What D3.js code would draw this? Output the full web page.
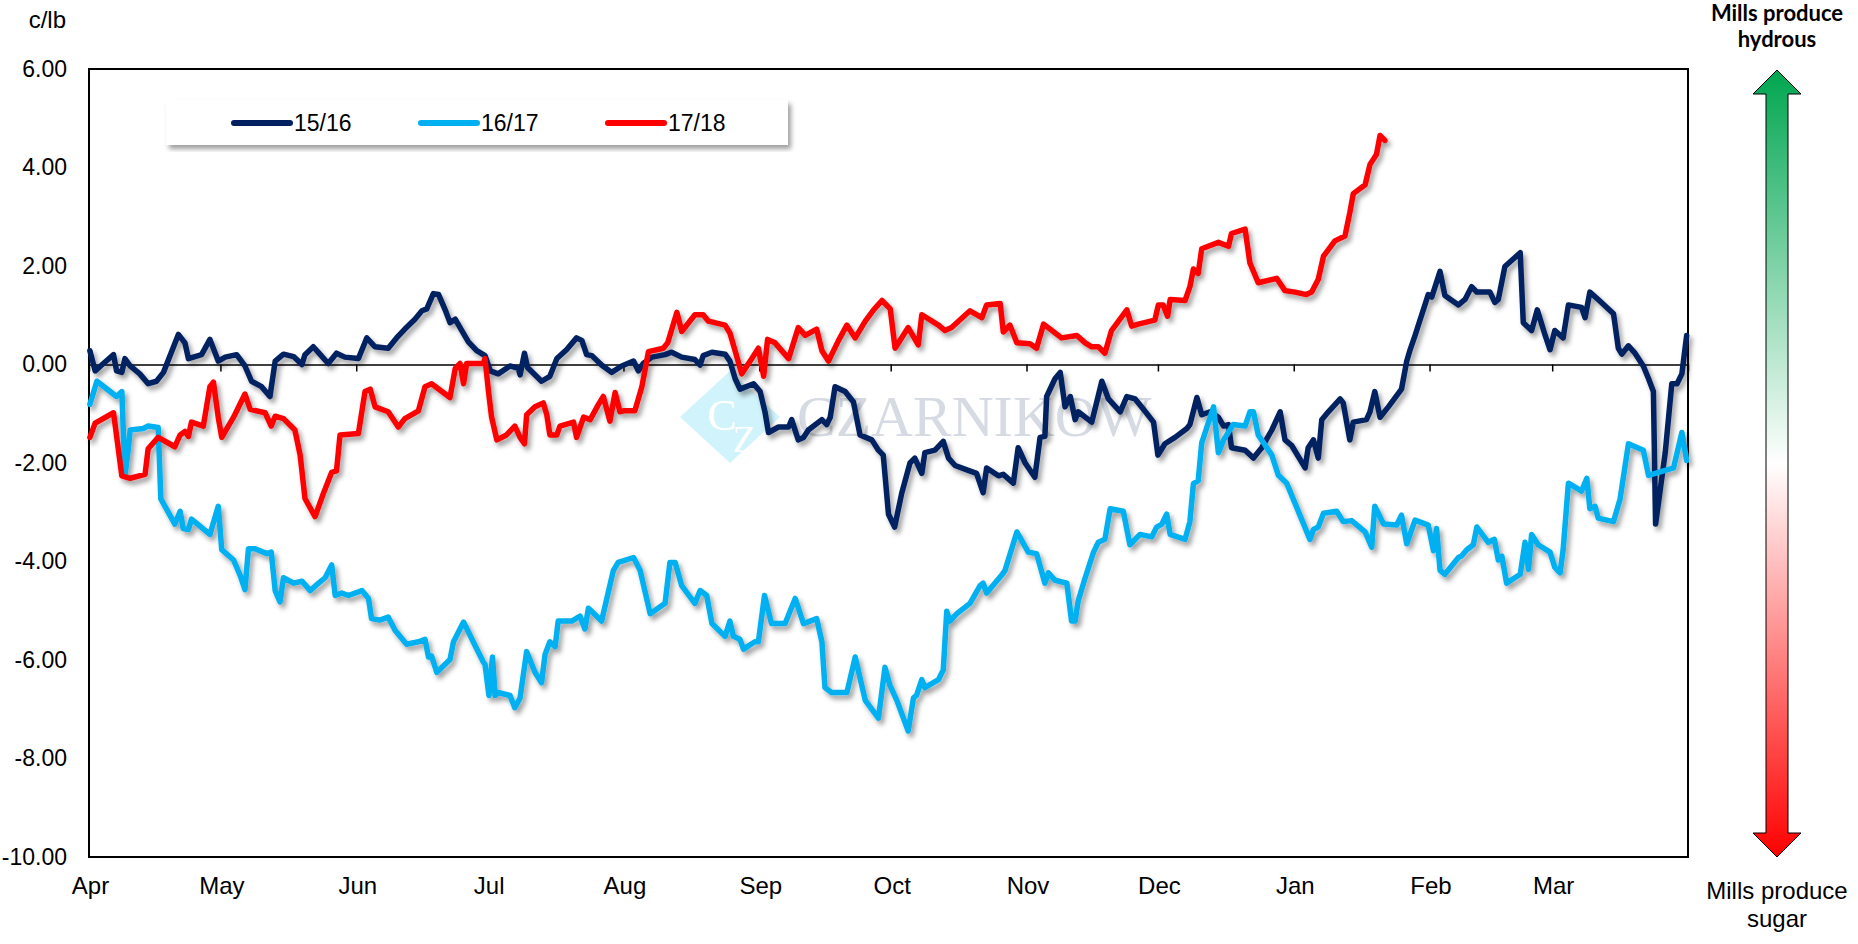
<!DOCTYPE html>
<html lang="en">
<head>
<meta charset="utf-8">
<title>Hydrous vs sugar parity</title>
<script src="https://d3js.org/d3.v7.min.js"></script>
<style>
body { margin: 0; background: #ffffff; }
.axis text { font-family: "Liberation Sans", Arial, sans-serif; fill: #000; }
</style>
</head>
<body>
<script>
// season start, x values are days after 1 April
var seasonStart = Date.UTC(2017, 3, 1);
var seasonEnd = Date.UTC(2018, 3, 1);

var yTicks = [6, 4, 2, 0, -2, -4, -6, -8, -10];
var seriesNames = ["15/16", "16/17", "17/18"];
var seriesColors = ["#002060", "#00b0f0", "#ff0000"];

// [day, c/lb]
var s1516 = [[0.2,0.28],[1.4,-0.13],[2.9,-0.01],[5.6,0.20],[6.3,-0.13],[7.5,-0.16],[8.2,0.12],[9.4,-0.03],[11.6,-0.19],[13.5,-0.39],[15.4,-0.34],[17.0,-0.16],[20.4,0.61],[21.9,0.44],[22.7,0.12],[25.7,0.20],[27.6,0.51],[29.5,0.07],[31.1,0.15],[33.7,0.20],[35.6,-0.03],[37.1,-0.34],[39.4,-0.45],[41.3,-0.65],[42.5,0.07],[44.4,0.21],[46.7,0.16],[48.6,0.00],[49.3,0.20],[51.2,0.36],[52.7,0.21],[54.6,0.02],[56.5,0.23],[58.4,0.15],[61.5,0.12],[63.4,0.54],[65.3,0.36],[68.3,0.33],[70.2,0.54],[72.1,0.72],[74.4,0.92],[76.0,1.09],[77.1,1.13],[78.6,1.44],[79.8,1.42],[81.3,1.11],[82.4,0.85],[83.6,0.92],[84.7,0.75],[86.6,0.46],[88.5,0.28],[90.4,0.18],[91.6,-0.13],[93.4,-0.19],[96.1,-0.03],[98.0,-0.08],[98.4,-0.21],[99.4,0.23],[100.1,-0.06],[103.3,-0.34],[105.2,-0.24],[106.8,0.12],[109.0,0.30],[111.3,0.54],[112.5,0.49],[113.6,0.20],[114.8,0.18],[117.0,-0.01],[119.3,-0.16],[121.6,-0.03],[124.3,0.07],[125.4,-0.13],[126.5,0.02],[128.5,0.15],[131.5,0.20],[133.0,0.25],[135.3,0.15],[138.3,0.10],[139.5,-0.01],[140.2,0.18],[142.2,0.25],[145.2,0.21],[146.3,0.07],[147.5,-0.29],[148.6,-0.50],[151.7,-0.39],[153.2,-0.55],[154.3,-0.96],[155.1,-1.38],[157.4,-1.27],[159.7,-1.27],[160.4,-1.12],[161.9,-1.53],[163.1,-1.48],[164.2,-1.33],[167.3,-1.12],[168.4,-1.22],[169.2,-1.07],[170.3,-0.45],[172.6,-0.55],[174.5,-0.76],[176.0,-1.43],[178.7,-1.53],[180.2,-1.74],[181.3,-1.84],[182.5,-3.04],[183.9,-3.30],[185.5,-2.62],[187.4,-2.00],[188.5,-1.90],[190.1,-2.21],[190.8,-1.79],[193.1,-1.74],[195.0,-1.56],[196.2,-1.90],[197.7,-2.05],[200.7,-2.15],[202.6,-2.21],[204.1,-2.60],[204.9,-2.10],[207.6,-2.26],[208.7,-2.23],[211.0,-2.41],[212.1,-1.69],[213.7,-2.00],[215.9,-2.29],[217.1,-1.48],[218.2,-1.46],[218.6,-0.65],[220.5,-0.29],[221.7,-0.16],[222.8,-0.86],[224.0,-0.65],[225.1,-1.12],[225.8,-0.96],[228.9,-1.17],[231.2,-0.34],[232.7,-0.70],[235.4,-0.96],[236.9,-0.65],[238.8,-0.70],[240.7,-0.91],[243.0,-1.17],[244.0,-1.84],[245.6,-1.61],[247.9,-1.48],[250.6,-1.30],[251.3,-1.22],[252.9,-0.67],[254.0,-1.02],[255.9,-0.96],[257.8,-1.07],[259.0,-1.25],[260.1,-1.22],[260.8,-1.69],[263.9,-1.74],[265.8,-1.90],[267.7,-1.69],[270.0,-1.33],[271.9,-0.96],[273.0,-1.53],[274.5,-1.64],[277.6,-2.10],[278.3,-1.69],[279.5,-1.53],[280.6,-1.90],[281.4,-1.12],[282.9,-0.96],[285.6,-0.70],[286.3,-0.78],[287.8,-1.53],[288.6,-1.17],[291.6,-1.12],[292.4,-0.96],[293.5,-0.55],[294.7,-1.07],[296.6,-0.86],[299.6,-0.50],[300.8,0.07],[301.5,0.28],[302.7,0.59],[305.7,1.42],[306.5,1.37],[308.4,1.89],[309.5,1.40],[312.6,1.21],[314.1,1.32],[315.6,1.58],[316.8,1.47],[319.8,1.47],[320.9,1.26],[321.7,1.32],[323.2,1.99],[326.7,2.27],[327.4,0.85],[329.3,0.69],[330.6,1.11],[332.4,0.59],[333.5,0.30],[334.6,0.69],[336.5,0.54],[337.7,1.21],[340.7,1.16],[341.5,0.95],[342.6,1.47],[344.5,1.32],[348.0,1.03],[349.1,0.33],[349.9,0.21],[351.4,0.38],[352.9,0.23],[354.8,-0.03],[356.0,-0.29],[357.1,-0.55],[357.6,-3.24],[359.8,-1.79],[361.3,-0.39],[362.5,-0.39],[363.6,-0.19],[364.7,0.59]];

var s1617 = [[0.2,-0.81],[1.8,-0.34],[6.3,-0.65],[7.5,-0.55],[8.2,-2.26],[9.0,-1.69],[9.4,-1.33],[12.4,-1.30],[13.5,-1.25],[15.8,-1.28],[16.4,-2.73],[19.6,-3.24],[20.8,-2.98],[21.5,-3.33],[22.7,-3.35],[23.4,-3.14],[27.6,-3.45],[29.5,-2.88],[30.3,-3.76],[33.0,-3.97],[34.5,-4.28],[35.6,-4.57],[36.4,-3.74],[37.9,-3.74],[40.6,-3.84],[41.6,-3.81],[42.5,-4.59],[43.6,-4.82],[44.4,-4.33],[46.7,-4.44],[48.6,-4.40],[50.5,-4.59],[52.4,-4.44],[53.9,-4.33],[55.4,-4.07],[56.2,-4.69],[57.7,-4.64],[59.2,-4.69],[62.3,-4.59],[63.8,-4.75],[64.5,-5.16],[66.4,-5.19],[68.3,-5.13],[69.9,-5.40],[71.0,-5.52],[72.5,-5.68],[75.2,-5.63],[76.7,-5.58],[77.5,-5.94],[78.2,-5.92],[79.4,-6.25],[82.4,-5.99],[83.2,-5.63],[85.5,-5.23],[87.7,-5.63],[90.0,-6.04],[90.4,-6.09],[91.3,-6.72],[92.1,-5.94],[92.7,-6.72],[93.4,-6.66],[96.1,-6.72],[97.2,-6.97],[98.4,-6.77],[99.9,-5.83],[101.8,-6.25],[103.3,-6.46],[104.1,-5.89],[105.2,-5.63],[106.4,-5.73],[107.1,-5.21],[110.2,-5.21],[112.1,-5.11],[113.2,-5.37],[114.0,-4.95],[117.0,-5.21],[119.7,-4.18],[120.8,-4.02],[124.3,-3.92],[125.8,-4.18],[128.1,-5.06],[131.5,-4.85],[132.6,-4.02],[133.8,-4.02],[135.3,-4.49],[138.3,-4.85],[139.5,-4.59],[141.0,-4.69],[142.2,-5.26],[145.2,-5.52],[146.3,-5.21],[147.1,-5.52],[148.6,-5.58],[149.4,-5.78],[152.0,-5.63],[152.8,-5.63],[154.2,-4.69],[155.8,-5.26],[158.9,-5.26],[161.2,-4.75],[163.1,-5.26],[166.1,-5.16],[167.3,-5.63],[168.0,-6.56],[169.5,-6.66],[173.0,-6.66],[174.9,-5.94],[177.2,-6.82],[180.2,-7.18],[181.7,-6.15],[182.8,-6.51],[184.4,-6.82],[187.0,-7.44],[188.2,-6.77],[188.9,-6.72],[190.1,-6.40],[190.8,-6.56],[193.9,-6.40],[195.0,-6.20],[195.8,-5.01],[196.5,-5.21],[198.1,-5.06],[201.1,-4.85],[203.4,-4.49],[204.1,-4.44],[204.9,-4.64],[208.3,-4.28],[209.1,-4.18],[211.8,-3.40],[214.4,-3.81],[216.3,-3.84],[218.2,-4.44],[219.0,-4.23],[220.5,-4.38],[223.2,-4.44],[224.3,-5.21],[225.1,-5.21],[225.8,-4.80],[227.4,-4.33],[229.3,-3.81],[230.4,-3.61],[231.9,-3.55],[233.1,-2.93],[236.1,-2.98],[237.6,-3.66],[239.9,-3.45],[242.6,-3.50],[243.7,-3.30],[244.9,-3.24],[246.0,-3.04],[246.8,-3.45],[250.2,-3.55],[251.3,-3.19],[252.1,-2.42],[253.2,-2.36],[254.0,-1.59],[256.7,-0.86],[257.8,-1.79],[259.0,-1.53],[261.2,-1.22],[263.9,-1.25],[265.0,-0.96],[265.8,-0.96],[266.9,-1.43],[270.0,-1.84],[271.5,-2.25],[273.4,-2.41],[275.3,-2.82],[278.7,-3.55],[279.5,-3.35],[280.6,-3.30],[281.8,-3.02],[284.8,-2.98],[286.3,-3.19],[288.2,-3.17],[291.3,-3.40],[292.8,-3.71],[293.5,-2.88],[295.5,-3.24],[298.5,-3.26],[299.6,-3.06],[300.8,-3.64],[302.7,-3.16],[305.7,-3.26],[306.9,-3.78],[307.6,-3.33],[308.4,-4.18],[309.5,-4.26],[312.6,-3.92],[313.3,-3.89],[314.5,-3.76],[316.0,-3.66],[316.8,-3.30],[319.4,-3.61],[320.8,-3.55],[321.7,-3.97],[322.5,-3.89],[323.6,-4.44],[326.7,-4.26],[327.8,-3.61],[328.6,-4.16],[329.3,-3.45],[330.8,-3.66],[333.5,-3.81],[334.6,-4.12],[335.8,-4.23],[336.5,-3.76],[337.7,-2.41],[340.7,-2.57],[341.9,-2.31],[342.6,-2.93],[343.8,-2.88],[344.5,-3.12],[348.0,-3.19],[349.5,-2.73],[351.4,-1.61],[354.8,-1.74],[356.0,-2.25],[361.7,-2.10],[363.6,-1.38],[364.7,-1.95]];

var s1718 = [[0.2,-1.48],[1.4,-1.19],[5.6,-0.98],[7.5,-2.26],[9.4,-2.31],[12.8,-2.23],[13.5,-1.71],[15.8,-1.48],[19.6,-1.67],[20.8,-1.43],[21.9,-1.36],[22.7,-1.46],[23.4,-1.17],[26.1,-1.25],[27.6,-0.45],[28.4,-0.36],[29.5,-1.07],[30.3,-1.48],[33.0,-1.07],[35.6,-0.60],[36.8,-0.91],[40.2,-0.98],[41.6,-1.25],[42.5,-1.05],[44.4,-1.10],[47.0,-1.33],[48.2,-1.84],[49.3,-2.72],[51.6,-3.09],[53.5,-2.62],[55.4,-2.19],[56.5,-2.16],[57.3,-1.43],[61.5,-1.40],[63.0,-0.55],[64.2,-0.50],[65.3,-0.86],[68.3,-0.96],[70.6,-1.27],[72.1,-1.10],[75.2,-0.94],[76.7,-0.45],[78.2,-0.39],[82.4,-0.67],[83.6,-0.08],[84.7,0.02],[85.5,-0.39],[86.2,0.02],[90.0,0.02],[90.4,0.12],[91.2,-0.55],[91.9,-1.07],[93.1,-1.53],[95.3,-1.43],[97.2,-1.25],[98.4,-1.48],[99.4,-1.61],[99.9,-1.02],[101.8,-0.86],[103.7,-0.78],[104.5,-1.02],[105.2,-1.43],[106.8,-1.43],[107.5,-1.25],[110.6,-1.17],[111.3,-1.48],[112.9,-1.07],[114.4,-1.12],[116.3,-0.81],[117.4,-0.65],[118.9,-1.15],[120.1,-0.57],[121.2,-0.96],[122.0,-0.94],[124.6,-0.94],[126.2,-0.45],[127.7,0.26],[131.1,0.33],[132.1,0.44],[134.2,1.06],[135.3,0.67],[138.3,1.01],[140.2,1.01],[141.4,0.88],[145.2,0.80],[146.3,0.64],[149.0,-0.19],[151.3,0.12],[152.8,0.33],[154.0,-0.24],[154.9,0.51],[156.6,0.44],[159.7,0.12],[161.9,0.75],[163.5,0.59],[166.1,0.72],[167.3,0.28],[168.8,0.07],[171.1,0.49],[173.0,0.80],[174.9,0.54],[177.2,0.88],[179.1,1.11],[181.0,1.30],[182.9,1.13],[184.0,0.33],[187.0,0.75],[189.3,0.40],[190.1,1.01],[193.9,0.80],[195.4,0.69],[196.9,0.75],[201.1,1.09],[203.8,0.95],[204.9,1.21],[208.0,1.24],[208.7,0.66],[210.2,0.80],[211.8,0.44],[214.8,0.42],[216.3,0.33],[217.9,0.82],[222.0,0.54],[225.5,0.59],[227.4,0.44],[228.9,0.36],[230.4,0.36],[231.9,0.23],[233.4,0.69],[236.9,1.11],[238.0,0.78],[239.5,0.82],[243.3,0.90],[244.1,1.21],[245.2,1.21],[246.2,0.98],[246.8,1.32],[250.2,1.30],[251.3,1.58],[252.1,1.94],[253.2,1.85],[254.0,2.35],[257.8,2.48],[260.1,2.40],[260.8,2.66],[263.9,2.75],[265.0,2.06],[266.9,1.66],[271.1,1.75],[273.0,1.50],[275.3,1.47],[277.9,1.42],[279.1,1.47],[280.6,1.73],[281.8,2.20],[284.4,2.51],[286.7,2.61],[287.8,3.08],[288.6,3.47],[291.3,3.65],[292.4,4.06],[293.2,4.17],[293.9,4.27],[294.7,4.65],[295.8,4.55]];

var seriesData = [s1516, s1617, s1718];

var width = 1858, height = 944;
var plot = {left: 89, top: 69, right: 1688, bottom: 857};
var font = '"Liberation Sans", Arial, sans-serif';

var svg = d3.select("body").append("svg")
  .attr("width", width)
  .attr("height", height)
  .style("display", "block");

svg.append("rect").attr("width", width).attr("height", height).attr("fill", "#fff");

var defs = svg.append("defs");

// soft shadow under lines and legend
var shadow = defs.append("filter").attr("id", "shadow")
  .attr("x", "-5%").attr("y", "-5%").attr("width", "110%").attr("height", "120%");
shadow.append("feDropShadow")
  .attr("dx", 3).attr("dy", 4).attr("stdDeviation", 2.5)
  .attr("flood-color", "#000").attr("flood-opacity", 0.38);

var grad = defs.append("linearGradient").attr("id", "arrowGrad")
  .attr("gradientUnits", "userSpaceOnUse")
  .attr("x1", 0).attr("y1", 70).attr("x2", 0).attr("y2", 857);
grad.append("stop").attr("offset", "0%").attr("stop-color", "#00a650");
grad.append("stop").attr("offset", "50%").attr("stop-color", "#ffffff");
grad.append("stop").attr("offset", "100%").attr("stop-color", "#ff0000");

var x = d3.scaleUtc()
  .domain([new Date(seasonStart), new Date(seasonEnd)])
  .range([plot.left, plot.right]);

var y = d3.scaleLinear()
  .domain([-10, 6])
  .range([plot.bottom, plot.top]);

function dayToDate(d) { return new Date(seasonStart + d * 864e5); }

var months = d3.utcMonth.range(new Date(seasonStart), new Date(seasonEnd));

// watermark
var wm = svg.append("g").attr("class", "watermark");
wm.append("path")
  .attr("d", "M680,417 L730,371 L780,417 L730,463 Z")
  .attr("fill", "#d1f3fb");
wm.append("text").attr("x", 722).attr("y", 430)
  .attr("text-anchor", "middle")
  .style("font-family", '"Liberation Serif", serif')
  .style("font-size", "44px").attr("fill", "#fff").text("C");
wm.append("text").attr("x", 744).attr("y", 452)
  .attr("text-anchor", "middle")
  .style("font-family", '"Liberation Serif", serif')
  .style("font-size", "38px").attr("fill", "#fff").text("Z");
wm.append("text").attr("x", 797).attr("y", 436)
  .style("font-family", '"Liberation Serif", serif')
  .style("font-size", "58px").attr("fill", "#d6dbe3")
  .text("CZARNIKOW");

// plot frame
svg.append("rect")
  .attr("x", plot.left).attr("y", plot.top)
  .attr("width", plot.right - plot.left)
  .attr("height", plot.bottom - plot.top)
  .attr("fill", "none").attr("stroke", "#000").attr("stroke-width", 2);

// zero axis with month ticks
var zeroAxis = svg.append("g")
  .attr("transform", "translate(0," + y(0) + ")")
  .call(d3.axisBottom(x).tickValues(months.slice(1)).tickSize(7).tickFormat(""));
zeroAxis.select(".domain").attr("stroke", "#000").attr("stroke-width", 1.5);
zeroAxis.selectAll(".tick line").attr("stroke", "#000").attr("stroke-width", 1.5);

// month labels along the bottom
var monthAxis = svg.append("g")
  .attr("class", "axis")
  .attr("transform", "translate(1," + plot.bottom + ")")
  .call(d3.axisBottom(x).tickValues(months).tickSize(0).tickPadding(20)
    .tickFormat(d3.utcFormat("%b")));
monthAxis.select(".domain").remove();
monthAxis.selectAll("text").style("font-family", font).style("font-size", "24px");

// y labels
var yAxis = svg.append("g")
  .attr("class", "axis")
  .attr("transform", "translate(" + plot.left + ",0)")
  .call(d3.axisLeft(y).tickValues(yTicks).tickSize(0).tickPadding(22)
    .tickFormat(function(d) { return d.toFixed(2); }));
yAxis.select(".domain").remove();
yAxis.selectAll("text").style("font-family", font).style("font-size", "23px");

svg.append("text")
  .attr("x", 66).attr("y", 28)
  .attr("text-anchor", "end")
  .style("font-family", font).style("font-size", "24px")
  .text("c/lb");

// series
var line = d3.line()
  .x(function(d) { return x(dayToDate(d[0])); })
  .y(function(d) { return y(d[1]); });

var lines = svg.append("g").attr("filter", "url(#shadow)");
seriesData.forEach(function(s, i) {
  lines.append("path")
    .datum(s)
    .attr("d", line)
    .attr("fill", "none")
    .attr("stroke", seriesColors[i])
    .attr("stroke-width", 5.5)
    .attr("stroke-linejoin", "round")
    .attr("stroke-linecap", "round");
});

// legend
var legend = svg.append("g");
legend.append("rect")
  .attr("x", 166).attr("y", 100).attr("width", 622).attr("height", 45)
  .attr("fill", "#fff").attr("filter", "url(#shadow)");
var legendX = [234, 421, 608];
seriesNames.forEach(function(n, i) {
  legend.append("line")
    .attr("x1", legendX[i]).attr("x2", legendX[i] + 56)
    .attr("y1", 123).attr("y2", 123)
    .attr("stroke", seriesColors[i]).attr("stroke-width", 6)
    .attr("stroke-linecap", "round");
  legend.append("text")
    .attr("x", legendX[i] + 60).attr("y", 131)
    .style("font-family", font).style("font-size", "23px")
    .text(n);
});

// arrow on the right
var ax = 1777;
svg.append("path")
  .attr("d", "M" + ax + ",70 L" + (ax + 24) + ",94 L" + (ax + 11) + ",94 L" + (ax + 11) + ",833 L" + (ax + 24) + ",833 L" +
    ax + ",857 L" + (ax - 24) + ",833 L" + (ax - 11) + ",833 L" + (ax - 11) + ",94 L" + (ax - 24) + ",94 Z")
  .attr("fill", "url(#arrowGrad)")
  .attr("stroke", "#000").attr("stroke-width", 1);

var topLabel = svg.append("text")
  .attr("text-anchor", "middle")
  .style("font-family", "Lato, sans-serif").style("font-weight", "bold").style("font-size", "22px");
topLabel.append("tspan").attr("x", ax).attr("y", 21).text("Mills produce");
topLabel.append("tspan").attr("x", ax).attr("y", 47).text("hydrous");

svg.append("text")
  .attr("x", ax).attr("y", 899)
  .attr("text-anchor", "middle")
  .style("font-family", font).style("font-size", "24px")
  .text("Mills produce");
svg.append("text")
  .attr("x", ax).attr("y", 927)
  .attr("text-anchor", "middle")
  .style("font-family", font).style("font-size", "24px")
  .text("sugar");
</script>
</body>
</html>
